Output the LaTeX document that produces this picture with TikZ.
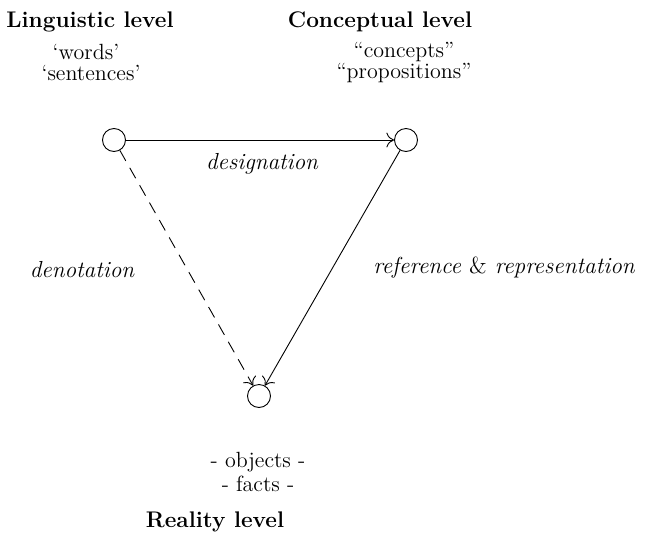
\documentclass[tikz,border=0pt]{standalone}
\usepackage{fontspec}
\usetikzlibrary{arrows.meta}
\begin{document}
\begin{tikzpicture}[x=0.5pt,y=-0.5pt,
  dot/.style={draw,circle,minimum size=11.5pt,inner sep=0pt,line width=0.45pt},
  head/.style={font=\fontsize{11.3}{13.6}\selectfont\bfseries,inner sep=0pt},
  sub/.style={font=\fontsize{11}{13.2}\selectfont,inner sep=0pt},
  lab/.style={font=\fontsize{11.6}{14}\selectfont\itshape,inner sep=0pt},
  arr/.style={line width=0.45pt,-{To[length=3.8pt,width=7.4pt]}},
  dsh/.style={arr,dash pattern=on 6pt off 4pt}]
\useasboundingbox (0,0) rectangle (653,536);
\node[head] (lh) at (90,22) {Linguistic level};
\node[sub] (lw) at (86,52) {`words'};
\node[sub] (ls) at (91,73) {`sentences'};
\node[head] (ch) at (380,22) {Conceptual level};
\node[sub] (cc) at (404,52) {``concepts''};
\node[sub] (cp) at (404,73) {``propositions''};
\node[dot] (L) at (114,140) {};
\node[dot] (C) at (406,140) {};
\node[dot] (R) at (259,396) {};
\node[lab] (des) at (262,164) {designation};
\node[lab] (den) at (82,270) {denotation};
\node[lab] (ref) at (504,268) {reference {\upshape\&} representation};
\node[sub] (ob) at (258,462) {- objects -};
\node[sub] (fa) at (258,484) {- facts -};
\node[head] (rh) at (215,522) {Reality level};
\draw[arr] (L) -- (C);
\draw[dsh] (L) -- (R);
\draw[arr] (C) -- (R);
\end{tikzpicture}
\end{document}
